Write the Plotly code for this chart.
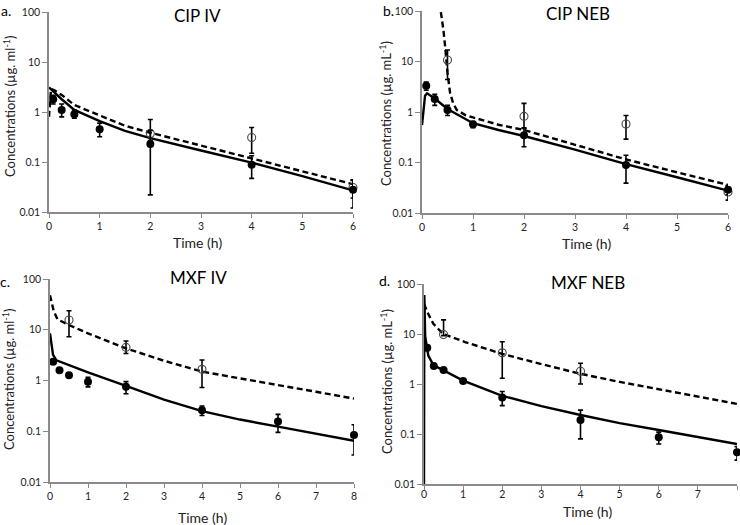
import plotly.graph_objects as go

# ---------------- data ----------------
# Panel a: CIP IV
a_t_solid = [0.083, 0.25, 0.5, 1, 2, 4, 6]
a_v_solid = [1.8, 1.1, 0.9, 0.45, 0.23, 0.088, 0.028]
a_ep_solid = [0.35, 0.35, 0.2, 0.15, 0.2, 0.045, 0.016]
a_em_solid = [0.35, 0.3, 0.15, 0.13, 0.208, 0.041, 0.016]
a_t_open = [2, 4, 6]
a_v_open = [0.37, 0.31, 0.031]
a_ep_open = [0.34, 0.18, 0.012]
a_em_open = [0.1, 0.16, 0.012]
a_t_line = [0, 0.25, 0.5, 1, 1.5, 2, 3, 4, 5, 6]
a_v_line = [3.1, 1.8, 1.1, 0.66, 0.42, 0.3, 0.17, 0.097, 0.052, 0.027]
a_t_dash = [0, 0.04, 0.1, 0.25, 0.5, 1, 1.5, 2, 3, 4, 5, 6]
a_v_dash = [0.8, 2.9, 2.75, 2.2, 1.38, 0.84, 0.53, 0.385, 0.21, 0.118, 0.065, 0.036]

# Panel b: CIP NEB
b_t_solid = [0.083, 0.25, 0.5, 1, 2, 4, 6]
b_v_solid = [3.3, 1.8, 1.1, 0.57, 0.345, 0.089, 0.029]
b_ep_solid = [0.6, 0.45, 0.25, 0.08, 0.14, 0.05, 0.006]
b_em_solid = [0.6, 0.45, 0.25, 0.08, 0.14, 0.05, 0.006]
b_t_open = [0.5, 2, 4, 6]
b_v_open = [10.7, 0.82, 0.58, 0.026]
b_ep_open = [6.2, 0.66, 0.27, 0.008]
b_em_open = [6.3, 0.35, 0.29, 0.008]
b_t_line = [0, 0.03, 0.06, 0.1, 0.25, 0.5, 1, 1.5, 2, 3, 4, 5, 6]
b_v_line = [0.55, 1.3, 2.1, 2.35, 1.85, 1.15, 0.6, 0.44, 0.335, 0.18, 0.093, 0.051, 0.0277]
b_t_dash = [0.37, 0.42, 0.46, 0.5, 0.55, 0.61, 0.68, 0.85, 1.0, 1.5, 2, 3, 4, 5, 6]
b_v_dash = [95, 42, 17, 6, 2.4, 1.5, 1.1, 0.87, 0.78, 0.56, 0.44, 0.225, 0.115, 0.064, 0.036]

# Panel c: MXF IV
c_t_solid = [0.083, 0.25, 0.5, 1, 2, 4, 6, 8]
c_v_solid = [2.35, 1.6, 1.27, 0.95, 0.75, 0.26, 0.155, 0.084]
c_ep_solid = [0.15, 0.1, 0.1, 0.2, 0.2, 0.055, 0.06, 0.05]
c_em_solid = [0.15, 0.1, 0.1, 0.2, 0.2, 0.055, 0.06, 0.05]
c_t_open = [0.5, 2, 4]
c_v_open = [15.6, 4.5, 1.66]
c_ep_open = [8.1, 1.5, 0.88]
c_em_open = [8.3, 1.1, 0.93]
c_t_line = [0, 0.04, 0.08, 0.17, 0.5, 1, 2, 3, 4, 5, 6, 7, 8]
c_v_line = [8.5, 4.6, 3.2, 2.5, 2.0, 1.45, 0.78, 0.42, 0.25, 0.17, 0.123, 0.09, 0.065]
c_t_dash = [0, 0.05, 0.1, 0.2, 0.5, 1, 2, 3, 4, 5, 6, 7, 8]
c_v_dash = [48, 33, 23, 16, 12.4, 8.5, 4.3, 2.45, 1.5, 1.1, 0.82, 0.6, 0.44]

# Panel d: MXF NEB
d_t_solid = [0.083, 0.25, 0.5, 1, 2, 4, 6, 8]
d_v_solid = [5.3, 2.3, 1.9, 1.15, 0.54, 0.19, 0.086, 0.043]
d_ep_solid = [0.6, 0.2, 0.15, 0.1, 0.17, 0.11, 0.023, 0.013]
d_em_solid = [0.6, 0.2, 0.15, 0.1, 0.17, 0.11, 0.023, 0.013]
d_t_open = [0.5, 2, 4]
d_v_open = [9.8, 4.2, 1.8]
d_ep_open = [9.4, 2.8, 0.8]
d_em_open = [0.5, 2.9, 0.8]
d_t_line = [0, 0.008, 0.03, 0.06, 0.11, 0.24, 0.5, 1, 2, 3, 4, 5, 6, 7, 8]
d_v_line = [0.008, 60, 9, 5.9, 3.7, 2.4, 1.9, 1.17, 0.58, 0.36, 0.24, 0.165, 0.12, 0.087, 0.063]
d_t_dash = [0, 0.11, 0.24, 0.49, 1.05, 2, 3, 4, 5, 6, 7, 8]
d_v_dash = [40, 25, 16, 10, 6.9, 4.0, 2.5, 1.6, 1.1, 0.78, 0.56, 0.4]

titles = ["CIP IV", "CIP NEB", "MXF IV", "MXF NEB"]
panel_labels = ["a.", "b.", "c.", "d."]
ylabels = ["Concentrations (µg. ml<sup>-1</sup>)", "Concentrations (µg. mL<sup>-1</sup>)",
           "Concentrations (µg. ml<sup>-1</sup>)", "Concentrations (µg. mL<sup>-1</sup>)"]
y_ticks = [0.01, 0.1, 1, 10, 100]
y_ticklabels = ["0.01", "0.1", "1", "10", "100"]

# ---------------- layout geometry ----------------
W, H = 740, 525
# pixel boxes: (x0, x1, ytop, ybottom)
boxes = [(49, 353, 12, 212), (422, 728, 11, 213), (50, 354, 279, 482), (424, 737, 284, 484)]
xmax = [6, 6, 8, 8]
x_standoff = [0, 0, 0, -4]

panels = [
    (a_t_solid, a_v_solid, a_ep_solid, a_em_solid, a_t_open, a_v_open, a_ep_open, a_em_open,
     a_t_line, a_v_line, a_t_dash, a_v_dash),
    (b_t_solid, b_v_solid, b_ep_solid, b_em_solid, b_t_open, b_v_open, b_ep_open, b_em_open,
     b_t_line, b_v_line, b_t_dash, b_v_dash),
    (c_t_solid, c_v_solid, c_ep_solid, c_em_solid, c_t_open, c_v_open, c_ep_open, c_em_open,
     c_t_line, c_v_line, c_t_dash, c_v_dash),
    (d_t_solid, d_v_solid, d_ep_solid, d_em_solid, d_t_open, d_v_open, d_ep_open, d_em_open,
     d_t_line, d_v_line, d_t_dash, d_v_dash),
]

FONT = "Lato"
fig = go.Figure()
layout = dict(width=W, height=H, margin=dict(l=0, r=0, t=0, b=0, autoexpand=False),
              paper_bgcolor="white", plot_bgcolor="white", showlegend=False,
              font=dict(family=FONT, color="#222"))
annotations = []

for i, p in enumerate(panels):
    (ts, vs, eps, ems, to, vo, epo, emo, tl, vl, td, vd) = p
    xa = "x" if i == 0 else f"x{i+1}"
    ya = "y" if i == 0 else f"y{i+1}"
    # model lines
    fig.add_trace(go.Scatter(x=tl, y=vl, mode="lines", xaxis=xa, yaxis=ya,
                             line=dict(color="black", width=2.4)))
    fig.add_trace(go.Scatter(x=td, y=vd, mode="lines", xaxis=xa, yaxis=ya,
                             line=dict(color="black", width=2.4, dash="6px,3.5px")))
    # open circles
    fig.add_trace(go.Scatter(x=to, y=vo, mode="markers", xaxis=xa, yaxis=ya, cliponaxis=False,
                             marker=dict(symbol="circle-open", size=8, color="#444",
                                         line=dict(width=1.1, color="#444")),
                             error_y=dict(type="data", array=epo, arrayminus=emo, symmetric=False,
                                          color="black", thickness=1.6, width=2.5)))
    # filled circles
    fig.add_trace(go.Scatter(x=ts, y=vs, mode="markers", xaxis=xa, yaxis=ya, cliponaxis=False,
                             marker=dict(symbol="circle", size=8, color="black"),
                             error_y=dict(type="data", array=eps, arrayminus=ems, symmetric=False,
                                          color="black", thickness=1.6, width=2.5)))

    x0, x1, yt, yb = boxes[i]
    xkey = "xaxis" if i == 0 else f"xaxis{i+1}"
    ykey = "yaxis" if i == 0 else f"yaxis{i+1}"
    layout[xkey] = dict(domain=[x0 / W, x1 / W], anchor=ya, range=[0, xmax[i]],
                        automargin=False, ticklabelstandoff=x_standoff[i],
                        tickmode="array", tickvals=list(range(xmax[i] + 1)),
                        ticks="outside", ticklen=4, tickcolor="#888", tickwidth=1,
                        showline=True, linecolor="#8a8a8a", linewidth=1.5,
                        showgrid=False, zeroline=False,
                        tickfont=dict(size=10.5, family=FONT, color="#222"))
    layout[ykey] = dict(domain=[1 - yb / H, 1 - yt / H], anchor=xa, type="log", range=[-2, 2],
                        automargin=False,
                        tickmode="array", tickvals=y_ticks, ticktext=y_ticklabels,
                        ticks="outside", ticklen=5, tickcolor="#888", tickwidth=1,
                        showline=True, linecolor="#8a8a8a", linewidth=1.5,
                        showgrid=False, zeroline=False,
                        tickfont=dict(size=10.5, family=FONT, color="#222"))

# titles and labels (pixel positions)
title_pos = [(197, 15), (578, 13), (199, 277), (588, 282)]
label_pos = [(6, 10), (388, 11), (5, 281), (384, 280)]
ytitle_pos = [(9, 106), (386, 114), (8, 379), (386, 382)]
xtitle_pos = [(197, 242), (586, 243), (203, 517), (587, 511)]

for i in range(4):
    tx, ty = title_pos[i]
    annotations.append(dict(text=titles[i], x=tx / W, y=1 - ty / H, xref="paper", yref="paper",
                            showarrow=False, xanchor="center", yanchor="middle",
                            font=dict(size=17, family=FONT, color="black")))
    lx, ly = label_pos[i]
    annotations.append(dict(text=panel_labels[i], x=lx / W, y=1 - ly / H, xref="paper", yref="paper",
                            showarrow=False, xanchor="center", yanchor="middle",
                            font=dict(size=14, family=FONT, color="black")))
    yx, yy = ytitle_pos[i]
    annotations.append(dict(text=ylabels[i], x=yx / W, y=1 - yy / H, xref="paper", yref="paper",
                            showarrow=False, xanchor="center", yanchor="middle", textangle=-90,
                            font=dict(size=13, family=FONT, color="#222")))
    xx, xy = xtitle_pos[i]
    annotations.append(dict(text="Time (h)", x=xx / W, y=1 - xy / H, xref="paper", yref="paper",
                            showarrow=False, xanchor="center", yanchor="middle",
                            font=dict(size=14, family=FONT, color="#222")))

layout["annotations"] = annotations
fig.update_layout(**layout)
fig.write_html("out.html", config={"displayModeBar": False},
               post_script="document.body.style.margin='0';document.body.style.overflow='hidden';")
